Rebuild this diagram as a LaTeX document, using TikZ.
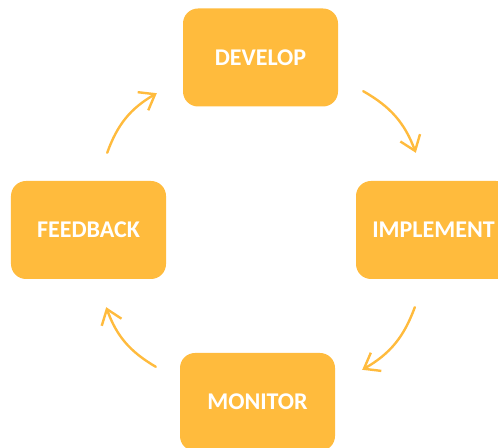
\documentclass[tikz,border=0pt]{standalone}
\usepackage{fontspec}
\setmainfont{Carlito}
\usetikzlibrary{arrows.meta}

\definecolor{stagegold}{HTML}{FFBB3D}

\tikzset{
  stage/.style={fill=stagegold, rounded corners=15bp, minimum width=155bp, minimum height=98bp,
    text=white, font=\fontsize{24bp}{28bp}\selectfont\bfseries, inner sep=0pt},
  cyclearrow/.style={draw=stagegold, line width=2.4bp, line cap=round,
    -{Straight Barb[length=14bp, width=21bp, line width=2.4bp]}, bend left=20}
}

\begin{document}
\begin{tikzpicture}[x=1bp, y=1bp]

% Fix the frame of the picture
\useasboundingbox (0,0) rectangle (498,448);

% Draw the four stages of the cycle
\node[stage] (develop) at (260.5, 390.5) {DEVELOP};
\node[stage] (implement) at (433.5, 218) {IMPLEMENT};
\node[stage] (monitor) at (257.5, 46) {MONITOR};
\node[stage] (feedback) at (88.5, 218) {FEEDBACK};

% Free ends of the arrows between stages
\coordinate (devout) at ([shift={(25,15.5)}]develop.south east);
\coordinate (impin) at ([shift={(60,28)}]implement.north west);
\coordinate (impout) at ([shift={(59,-28)}]implement.south west);
\coordinate (monin) at ([shift={(27,-17)}]monitor.north east);
\coordinate (monout) at ([shift={(-24,-14)}]monitor.north west);
\coordinate (feedin) at ([shift={(-60,-28)}]feedback.south east);
\coordinate (feedout) at ([shift={(-59,28)}]feedback.north east);
\coordinate (devin) at ([shift={(-26,13.5)}]develop.south west);

% Draw the arrows round the cycle
\draw[cyclearrow] (devout) to (impin);
\draw[cyclearrow] (impout) to (monin);
\draw[cyclearrow] (monout) to (feedin);
\draw[cyclearrow] (feedout) to (devin);

\end{tikzpicture}
\end{document}
